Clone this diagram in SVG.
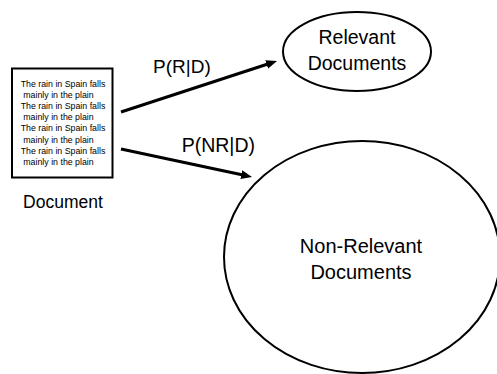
<svg xmlns="http://www.w3.org/2000/svg" width="497" height="374" viewBox="0 0 497 374">
<style>
.shape{fill:#fff;stroke:#000;stroke-width:2}
.lbl{font-family:"Liberation Sans",Arial,sans-serif;fill:#000}
.small{font-family:"Liberation Sans",Arial,sans-serif;font-size:8.8px;fill:#000}
.conn{stroke:#000;stroke-width:3;fill:none;marker-end:url(#ah)}
</style>
<defs>
<marker id="ah" markerUnits="userSpaceOnUse" markerWidth="11" markerHeight="9" viewBox="0 0 11 9" refX="3" refY="4.5" orient="auto">
<path d="M0,0 L11,4.5 L0,9 z" fill="#000"/>
</marker>
</defs>
<rect width="497" height="374" fill="#fff"/>
<g id="document">
<rect class="shape" x="12" y="68.5" width="100.5" height="109"/>
<text class="small" x="20.7" y="86.5">The rain in Spain falls</text>
<text class="small" x="23.3" y="97.7">mainly in the plain</text>
<text class="small" x="20.7" y="108.9">The rain in Spain falls</text>
<text class="small" x="23.3" y="120.1">mainly in the plain</text>
<text class="small" x="20.7" y="131.3">The rain in Spain falls</text>
<text class="small" x="23.3" y="142.5">mainly in the plain</text>
<text class="small" x="20.7" y="153.7">The rain in Spain falls</text>
<text class="small" x="23.3" y="164.9">mainly in the plain</text>
<text class="lbl" x="63" y="208" font-size="17.5" text-anchor="middle">Document</text>
</g>
<g id="relevant">
<ellipse class="shape" cx="357" cy="51.5" rx="74" ry="39.5"/>
<text class="lbl" x="357" y="44" font-size="19.5" text-anchor="middle">Relevant</text>
<text class="lbl" x="357" y="70" font-size="19.5" text-anchor="middle">Documents</text>
</g>
<g id="nonrelevant">
<ellipse class="shape" cx="362" cy="257" rx="138" ry="116"/>
<text class="lbl" x="361" y="253" font-size="20" text-anchor="middle">Non-Relevant</text>
<text class="lbl" x="361" y="279" font-size="20" text-anchor="middle">Documents</text>
</g>
<g id="connectors">
<line class="conn" x1="121" y1="112" x2="269.4" y2="63.5"/>
<line class="conn" x1="121" y1="149" x2="244.2" y2="175.3"/>
<text class="lbl" x="153" y="73" font-size="19">P(R|D)</text>
<text class="lbl" x="181.7" y="151.7" font-size="19.5">P(NR|D)</text>
</g>
</svg>
